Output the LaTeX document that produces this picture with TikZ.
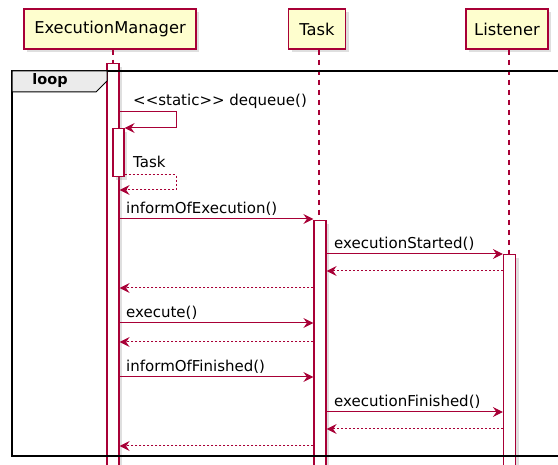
\documentclass[tikz,border=0pt]{standalone}
\usepackage{fontspec}
\setmainfont{DejaVu Sans}
\usetikzlibrary{arrows.meta, positioning, shadows}
\definecolor{umlred}{HTML}{A80036}
\definecolor{umlfill}{HTML}{FEFECE}
\tikzset{
  umlshadow/.style={drop shadow={shadow xshift=3pt, shadow yshift=-3pt, opacity=0.25, fill=black!50}},
  participant/.style={draw=umlred, fill=umlfill, line width=1.2pt, minimum height=40pt, umlshadow, font=\fontsize{16.3}{18}\selectfont},
  lifeline/.style={draw=umlred, line width=1.2pt, dash pattern=on 5pt off 5pt},
  actbar/.style={draw=umlred, fill=white, line width=1.2pt, minimum width=12pt, anchor=north, inner sep=0pt, umlshadow},
  msg/.style={draw=umlred, line width=1pt, -{Stealth[length=10pt, width=10pt, inset=3.5pt, fill=umlred]}},
  reply/.style={msg, dash pattern=on 2pt off 2pt},
  msglabel/.style={anchor=base west, inner sep=0pt, font=\fontsize{15}{17}\selectfont}
}
\begin{document}
\begin{tikzpicture}[x=1pt, y=-1pt]
\useasboundingbox (0,0) rectangle (558,465);
% participants
\node[participant, minimum width=172pt] (em) at (110,29) {ExecutionManager};
\node[participant, minimum width=57pt] (task) at (317,29) {Task};
\node[participant, minimum width=82pt] (lis) at (507,29) {Listener};
\draw[lifeline] ([xshift=3pt]em.south) -- ++(0,430);
\draw[lifeline] ([xshift=2pt]task.south) -- ++(0,430);
\draw[lifeline] ([xshift=2pt]lis.south) -- ++(0,430);
% activations
\node[actbar, minimum height=412pt] (emA) at (113,63) {};
\node[actbar, minimum height=48pt, minimum width=11pt] (emB) at (118.5,128) {};
\node[actbar, minimum height=252pt] (taskA) at (320,220) {};
\node[actbar, minimum height=218pt] (lisA) at (509.5,254) {};
% messages
\draw[msg] (emA.east |- 0,112) -- (176,112) -- (176,128) -- (emB.east |- 0,128);
\node[msglabel] (m1) at (133,106) {<{}<static>{}> dequeue()};
\draw[reply] (emB.east |- 0,175) -- (176,175) -- (176,190) -- (emA.east |- 0,190);
\node[msglabel] (m2) at (133,168) {Task};
\draw[msg] (emA.east |- 0,219) -- (taskA.west |- 0,219);
\node[msglabel] (m3) at (126,214) {informOfExecution()};
\draw[msg] (taskA.east |- 0,254) -- (lisA.west |- 0,254);
\node[msglabel] (m4) at (334,249) {executionStarted()};
\draw[reply] (lisA.west |- 0,271) -- (taskA.east |- 0,271);
\draw[reply] (taskA.west |- 0,288) -- (emA.east |- 0,288);
\draw[msg] (emA.east |- 0,323) -- (taskA.west |- 0,323);
\node[msglabel] (m5) at (126,318) {execute()};
\draw[reply] (taskA.west |- 0,342) -- (emA.east |- 0,342);
\draw[msg] (emA.east |- 0,377) -- (taskA.west |- 0,377);
\node[msglabel] (m6) at (126,372) {informOfFinished()};
\draw[msg] (taskA.east |- 0,412) -- (lisA.west |- 0,412);
\node[msglabel] (m7) at (334,407) {executionFinished()};
\draw[reply] (lisA.west |- 0,429) -- (taskA.east |- 0,429);
\draw[reply] (taskA.west |- 0,446) -- (emA.east |- 0,446);
% loop frame
\draw[line width=1.8pt] (12,71) rectangle (565,456);
\draw[line width=1pt, fill=black!8] (12,71) -- (107,71) -- (107,81) -- (96,92) -- (12,92) -- cycle;
\node[font=\bfseries\fontsize{14.5}{16}\selectfont, inner sep=0pt] (looplbl) at (50,81) {loop};
\end{tikzpicture}
\end{document}
